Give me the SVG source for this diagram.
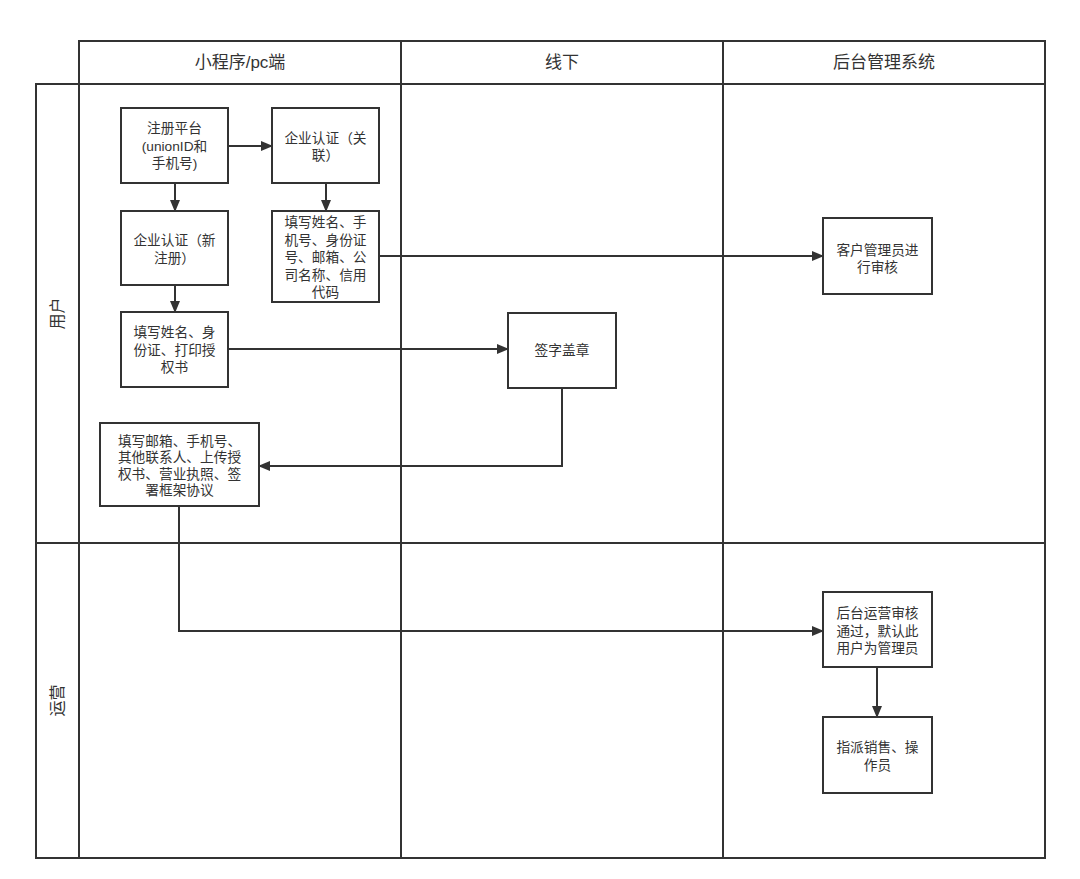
<svg xmlns="http://www.w3.org/2000/svg" width="1080" height="879" viewBox="0 0 1080 879">
<style>
.lane{fill:none;stroke:#333;stroke-width:2}
.box{fill:#fff;stroke:#333;stroke-width:2}
.t{font-family:"Liberation Sans","Noto Sans CJK SC",sans-serif;font-size:13.7px;fill:#333;text-anchor:middle;dominant-baseline:central}
.h{font-family:"Liberation Sans","Noto Sans CJK SC",sans-serif;font-size:17px;fill:#333;text-anchor:middle;dominant-baseline:central}
.v{font-family:"Liberation Sans","Noto Sans CJK SC",sans-serif;font-size:16px;fill:#333;text-anchor:middle;dominant-baseline:central}
.c{fill:none;stroke:#333;stroke-width:2}
</style>
<defs>
<marker id="arr" markerUnits="userSpaceOnUse" markerWidth="12" markerHeight="10" refX="11" refY="5" orient="auto">
<path d="M0,0 L12,5 L0,10 z" fill="#333"/>
</marker>
</defs>
<rect width="1080" height="879" fill="#fff"/>
<g id="pool">
<rect class="lane" x="79" y="41" width="966" height="43"/>
<rect class="lane" x="36" y="84" width="1009" height="774"/>
<line class="lane" x1="79" y1="84" x2="79" y2="858"/>
<line class="lane" x1="36" y1="543" x2="1045" y2="543"/>
<line class="lane" x1="401" y1="41" x2="401" y2="858"/>
<line class="lane" x1="723" y1="41" x2="723" y2="858"/>
<text class="h" x="240" y="62.5">小程序/pc端</text>
<text class="h" x="562" y="62.5">线下</text>
<text class="h" x="884" y="62.5">后台管理系统</text>
<text class="v" transform="translate(57.5,313.5) rotate(-90)">用户</text>
<text class="v" transform="translate(57.5,700.5) rotate(-90)">运营</text>
</g>
<g id="connectors">
<path class="c" d="M228,146 H272" marker-end="url(#arr)"/>
<path class="c" d="M175,183 V211" marker-end="url(#arr)"/>
<path class="c" d="M326,183 V211" marker-end="url(#arr)"/>
<path class="c" d="M175,285 V312" marker-end="url(#arr)"/>
<path class="c" d="M228,349 H508" marker-end="url(#arr)"/>
<path class="c" d="M379,256 H823" marker-end="url(#arr)"/>
<path class="c" d="M562,388 V466 H259" marker-end="url(#arr)"/>
<path class="c" d="M179,506 V631 H823" marker-end="url(#arr)"/>
<path class="c" d="M877,667 V717" marker-end="url(#arr)"/>
</g>
<g id="n1">
<rect class="box" x="121" y="108" width="107" height="75"/>
<text class="t" x="174.5"><tspan x="174.5" y="128">注册平台</tspan><tspan x="174.5" y="145.5">(unionID和</tspan><tspan x="174.5" y="163">手机号)</tspan></text>
</g>
<g id="n2">
<rect class="box" x="272" y="108" width="107" height="75"/>
<text class="t"><tspan x="325.5" y="137.5">企业认证（关</tspan><tspan x="325.5" y="155">联）</tspan></text>
</g>
<g id="n3">
<rect class="box" x="121" y="211" width="107" height="74"/>
<text class="t"><tspan x="174.5" y="240">企业认证（新</tspan><tspan x="174.5" y="257.5">注册）</tspan></text>
</g>
<g id="n4">
<rect class="box" x="272" y="211" width="107" height="91"/>
<text class="t"><tspan x="325.5" y="222">填写姓名、手</tspan><tspan x="325.5" y="239.5">机号、身份证</tspan><tspan x="325.5" y="257">号、邮箱、公</tspan><tspan x="325.5" y="274.5">司名称、信用</tspan><tspan x="325.5" y="292">代码</tspan></text>
</g>
<g id="n5">
<rect class="box" x="121" y="312" width="107" height="75"/>
<text class="t"><tspan x="174.5" y="332">填写姓名、身</tspan><tspan x="174.5" y="349.5">份证、打印授</tspan><tspan x="174.5" y="367">权书</tspan></text>
</g>
<g id="n6">
<rect class="box" x="508" y="313" width="108" height="75"/>
<text class="t" x="562" y="350.5">签字盖章</text>
</g>
<g id="n7">
<rect class="box" x="100" y="423" width="159" height="83"/>
<text class="t"><tspan x="179.5" y="440.5">填写邮箱、手机号、</tspan><tspan x="179.5" y="457">其他联系人、上传授</tspan><tspan x="179.5" y="473.5">权书、营业执照、签</tspan><tspan x="179.5" y="490">署框架协议</tspan></text>
</g>
<g id="n8">
<rect class="box" x="823" y="218" width="109" height="76"/>
<text class="t"><tspan x="877.5" y="249.5">客户管理员进</tspan><tspan x="877.5" y="267">行审核</tspan></text>
</g>
<g id="n9">
<rect class="box" x="823" y="592" width="109" height="75"/>
<text class="t"><tspan x="877.5" y="613">后台运营审核</tspan><tspan x="877.5" y="630.5">通过，默认此</tspan><tspan x="877.5" y="648">用户为管理员</tspan></text>
</g>
<g id="n10">
<rect class="box" x="823" y="717" width="109" height="76"/>
<text class="t"><tspan x="877.5" y="747">指派销售、操</tspan><tspan x="877.5" y="764.5">作员</tspan></text>
</g>
</svg>
